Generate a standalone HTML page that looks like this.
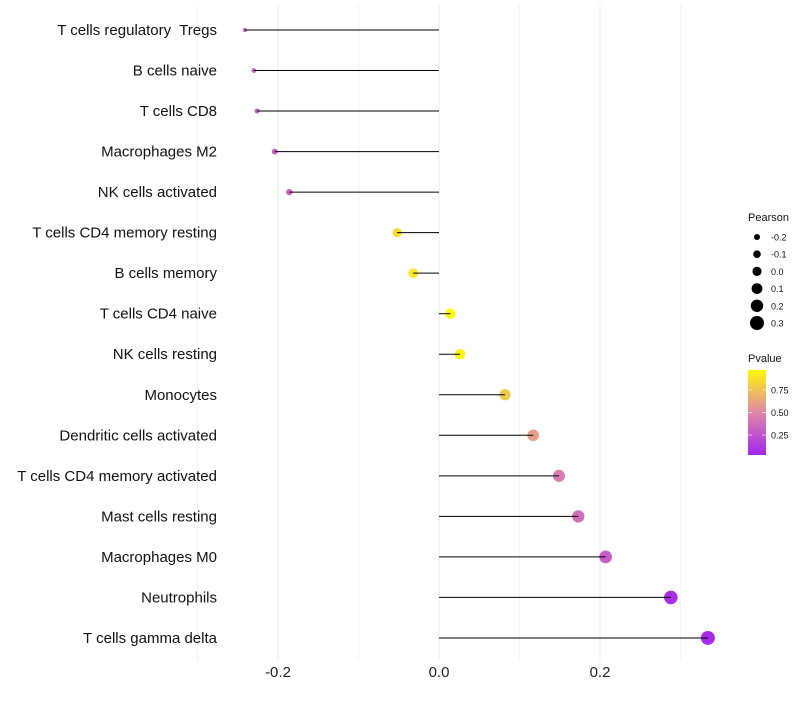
<!DOCTYPE html>
<html><head><meta charset="utf-8"><style>
body{margin:0;background:#fff;font-family:"Liberation Sans",sans-serif}
</style></head><body>
<svg id="chart" width="800" height="700" xmlns="http://www.w3.org/2000/svg" font-family="Liberation Sans, sans-serif"></svg>
<script>
const categories=["T cells regulatory  Tregs","B cells naive","T cells CD8","Macrophages M2","NK cells activated","T cells CD4 memory resting","B cells memory","T cells CD4 naive","NK cells resting","Monocytes","Dendritic cells activated","T cells CD4 memory activated","Mast cells resting","Macrophages M0","Neutrophils","T cells gamma delta"];
const pearson=[-0.241,-0.230,-0.226,-0.204,-0.186,-0.052,-0.032,0.014,0.026,0.082,0.117,0.149,0.173,0.207,0.288,0.334];
const pvalues=[0.25,0.3,0.3,0.3,0.35,0.85,0.9,0.98,0.95,0.78,0.6,0.45,0.38,0.3,0.07,0.05];
const xTicks=[-0.2,0,0.2];
const xTickLabels=["-0.2","0.0","0.2"];
const sizeLegend=[-0.2,-0.1,0.0,0.1,0.2,0.3];
const sizeLegendLabels=["-0.2","-0.1","0.0","0.1","0.2","0.3"];
const colorTicks=[0.25,0.5,0.75];
const colorTickLabels=["0.25","0.50","0.75"];

const svg=document.getElementById('chart');
const NS='http://www.w3.org/2000/svg';
function mk(t,a,p){const e=document.createElementNS(NS,t);for(const k in a)e.setAttribute(k,a[k]);(p||svg).appendChild(e);return e;}
const x=v=>439+v*805;
const y=i=>30+i*40.53;
const r=v=>1.5+5.5*Math.sqrt(Math.max(0,(v+0.245)/0.58));
function lerp(a,b,t){return a.map((c,i)=>Math.round(c+(b[i]-c)*t));}
function col(p){const s=[[160,32,240],[222,135,170],[255,255,0]];let c=p<0.5?lerp(s[0],s[1],p/0.5):lerp(s[1],s[2],(p-0.5)/0.5);return `rgb(${c.join(',')})`;}

for(let v=-0.3;v<=0.31;v+=0.1){const g=mk('line',{x1:x(v),x2:x(v),y1:5,y2:660,stroke:'#ebebeb','stroke-width':Math.abs(Math.round(v*10))%2==0?1:0.6});

}
xTicks.forEach((v,i)=>{const t=mk('text',{x:x(v),y:677,'text-anchor':'middle','font-size':15,fill:'#222'});t.textContent=xTickLabels[i];

});
categories.forEach((c,i)=>{
const t=mk('text',{x:217,y:y(i)+5,'text-anchor':'end','font-size':15,fill:'#111',style:'white-space:pre'});t.textContent=c;


const p=mk('circle',{cx:x(pearson[i]),cy:y(i),r:r(pearson[i]),fill:col(pvalues[i])});


const l=mk('line',{x1:x(0),x2:x(pearson[i]),y1:y(i),y2:y(i),stroke:'#000','stroke-width':1});


});
const lt=mk('text',{x:748,y:221,'font-size':11,fill:'#111'});lt.textContent='Pearson';


sizeLegend.forEach((v,i)=>{const cy=237+i*17.2;
const c=mk('circle',{cx:757,cy:cy,r:3+i*0.8,fill:'#000'});


const t=mk('text',{x:771,y:cy+3.5,'font-size':9,fill:'#111'});t.textContent=sizeLegendLabels[i];

});
const ct=mk('text',{x:748,y:362,'font-size':11,fill:'#111'});ct.textContent='Pvalue';


const defs=mk('defs',{});const lg=mk('linearGradient',{id:'pg',x1:0,y1:1,x2:0,y2:0},defs);
[0,0.25,0.5,0.75,1].forEach(s=>mk('stop',{offset:s,'stop-color':col(0.03+s*0.94)},lg));
const bar=mk('rect',{x:748,y:370,width:18,height:85,fill:'url(#pg)'});


const cy=p=>455-(p-0.03)/0.94*85;
colorTicks.forEach((v,i)=>{mk('line',{x1:748,x2:752,y1:cy(v),y2:cy(v),stroke:'#fff','stroke-opacity':0.6});mk('line',{x1:762,x2:766,y1:cy(v),y2:cy(v),stroke:'#fff','stroke-opacity':0.6});
const t=mk('text',{x:771,y:cy(v)+3.5,'font-size':9,fill:'#111'});t.textContent=colorTickLabels[i];

});
</script>
</body></html>
